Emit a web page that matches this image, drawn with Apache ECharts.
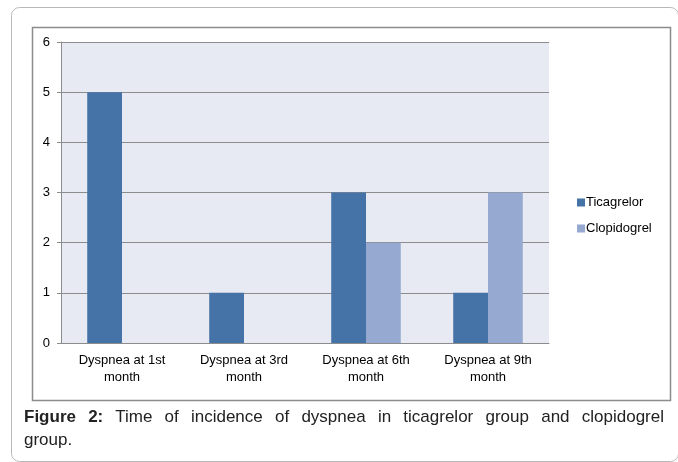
<!DOCTYPE html>
<html>
<head>
<meta charset="utf-8">
<title>Dyspnea chart</title>
<script src="https://cdn.jsdelivr.net/npm/echarts@6/dist/echarts.min.js"></script>
<style>
    body { margin: 0; background: #fff; }
    #wrap { position: relative; width: 678px; height: 462px; }
    #chart1 { position: absolute; left: 0; top: 0; width: 678px; height: 462px; }
    .cap {
        position: absolute; left: 24px; width: 640px;
        font-family: "Liberation Sans", Arial, sans-serif; font-size: 17px;
        line-height: 22px; color: #222; white-space: nowrap;
    }
    #cap1 { top: 406px; text-align: justify; text-align-last: justify; white-space: normal; }
    #cap2 { top: 429px; }
</style>
</head>
<body>
<div id="wrap">
    <div id="chart1"></div>
    <div class="cap" id="cap1"><b>Figure 2:</b> Time of incidence of dyspnea in ticagrelor group and clopidogrel</div>
    <div class="cap" id="cap2">group.</div>
</div>
<script type="text/javascript">
    // 数据
    var categories = ['Dyspnea at 1st\nmonth', 'Dyspnea at 3rd\nmonth', 'Dyspnea at 6th\nmonth', 'Dyspnea at 9th\nmonth'];
    var ticagrelor = [5, 1, 3, 1];
    var clopidogrel = [0, 0, 2, 3];
    var seriesNames = ['Ticagrelor', 'Clopidogrel'];

    var myChart = echarts.init(document.getElementById('chart1'));
    myChart.setOption({
        animation: false,
        textStyle: { fontFamily: 'Liberation Sans, Arial, sans-serif' },
        graphic: [
            {   // 外框
                type: 'rect', left: 9, top: 5,
                shape: { width: 667, height: 454, r: 8 },
                style: { fill: 'none', stroke: '#b8b8b8', lineWidth: 1 }
            },
            {   // 图表框
                type: 'rect', left: 30, top: 25,
                shape: { width: 638, height: 373 },
                style: { fill: 'none', stroke: '#8c8c8c', lineWidth: 1.5 }
            }
        ],
        grid: {
            left: 61, top: 42, right: 129, bottom: 119,
            show: true, backgroundColor: '#e7eaf2', borderWidth: 0
        },
        legend: {
            orient: 'vertical', left: 572, top: 191,
            itemWidth: 8, itemHeight: 8, itemGap: 13,
            icon: 'rect',
            textStyle: { fontSize: 13, color: '#000', padding: [0, 0, 0, -4] },
            data: seriesNames
        },
        xAxis: {
            type: 'category',
            data: categories,
            axisLine: { lineStyle: { color: '#8c8c8c' } },
            axisTick: { length: 5, lineStyle: { color: '#8c8c8c' } },
            axisLabel: { color: '#000', fontSize: 13, lineHeight: 17, margin: 9 }
        },
        yAxis: {
            type: 'value', min: 0, max: 6, interval: 1,
            axisLine: { show: true, lineStyle: { color: '#8c8c8c' } },
            axisTick: { show: true, length: 4, lineStyle: { color: '#8c8c8c' } },
            axisLabel: { color: '#000', fontSize: 13, margin: 11 },
            splitLine: { lineStyle: { color: '#8c8c8c' } }
        },
        series: [
            {
                name: seriesNames[0], type: 'bar', data: ticagrelor,
                barGap: '0%', barCategoryGap: '43%',
                itemStyle: { color: '#4572a7' }
            },
            {
                name: seriesNames[1], type: 'bar', data: clopidogrel,
                itemStyle: { color: '#95a9d1' }
            }
        ]
    });
</script>
</body>
</html>
